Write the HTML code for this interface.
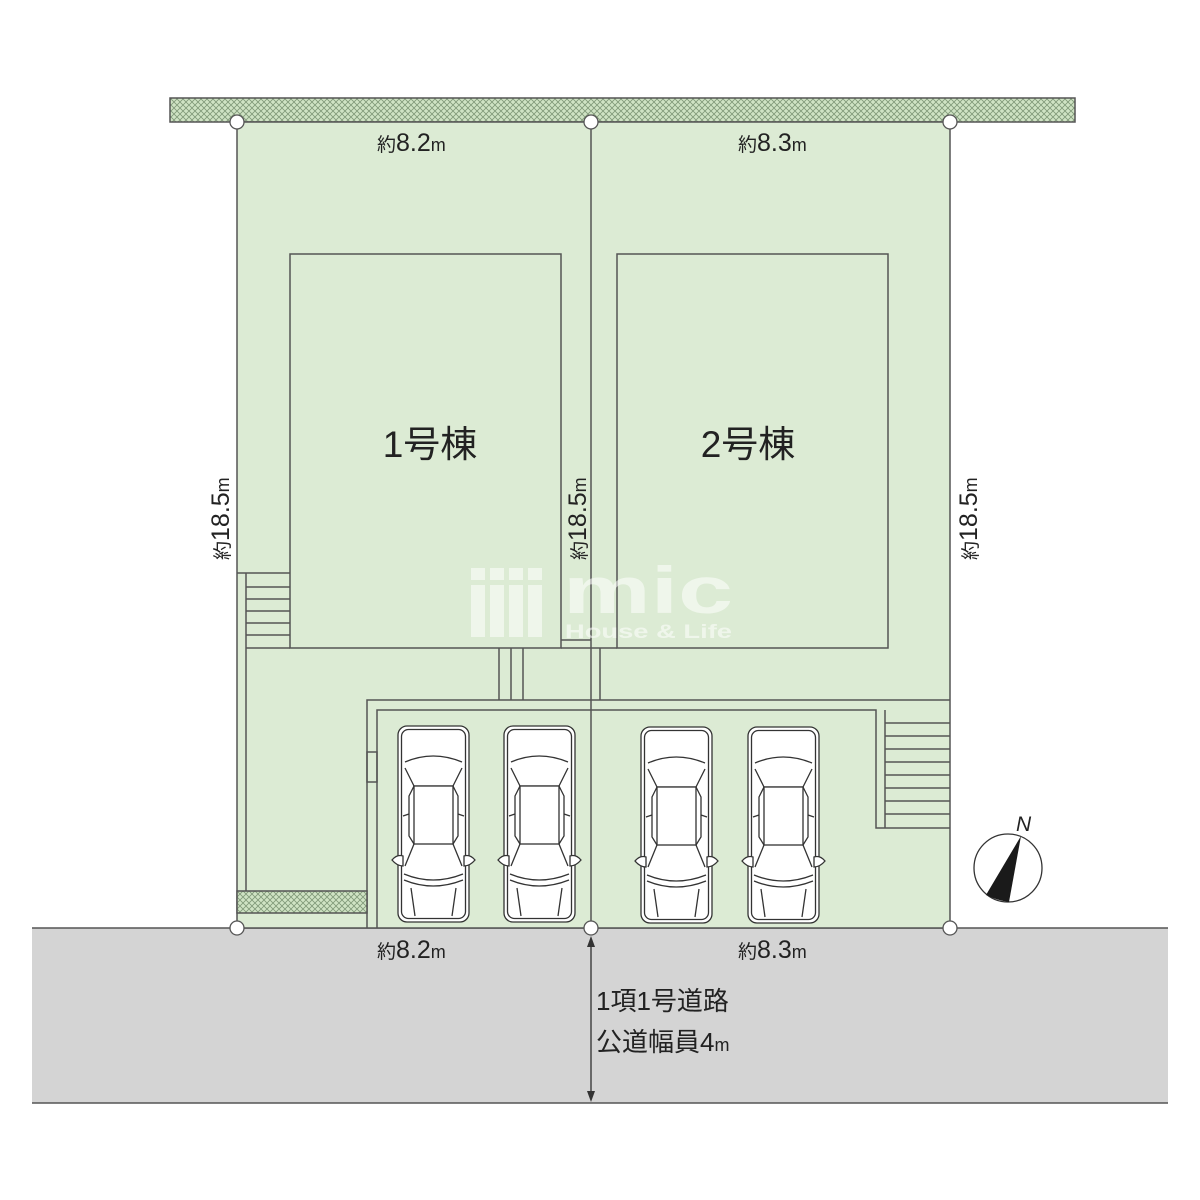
<!DOCTYPE html>
<html><head><meta charset="utf-8"><style>
html,body{margin:0;padding:0;background:#fff;}
svg{display:block;}
text{font-family:"Liberation Sans","Noto Sans CJK JP",sans-serif;fill:#222;}
</style></head><body>
<svg width="1200" height="1200" viewBox="0 0 1200 1200" xmlns="http://www.w3.org/2000/svg">
<defs>
<pattern id="hx" width="6" height="6" patternUnits="userSpaceOnUse">
<rect width="6" height="6" fill="#cfe3c4"/>
<path d="M0 0L6 6M6 0L0 6" stroke="#7f9878" stroke-width="0.8"/>
</pattern>
<g id="car" fill="#fff" stroke="#333" stroke-width="1.3">
<rect x="1" y="0" width="71" height="196" rx="9"/>
<rect x="4.5" y="3.5" width="64" height="189" rx="7"/>
<path d="M-5 134 Q0 128 6 130 L6 140 Q0 140 -5 134Z"/>
<path d="M78 134 Q73 128 67 130 L67 140 Q73 140 78 134Z"/>
<path d="M8 36 Q36 24 65 36" fill="none"/>
<path d="M8 42 L17 60 L56 60 L65 42" fill="none"/>
<rect x="17" y="60" width="39" height="58" fill="#fff"/>
<path d="M17 60 L12 70 L12 110 L17 118 M56 60 L61 70 L61 110 L56 118" fill="none"/>
<path d="M17 118 L8 140 M56 118 L65 140" fill="none"/>
<path d="M7 148 Q36 160 66 148" fill="none"/>
<path d="M7 154 Q36 166 66 154" fill="none"/>
<path d="M6 90 L12 88 M67 90 L61 88" fill="none"/>
<path d="M14 162 L18 190 M59 162 L55 190" fill="none"/>
</g>
</defs>

<rect x="32" y="928" width="1136" height="175" fill="#d4d4d4"/>
<line x1="32" y1="928" x2="1168" y2="928" stroke="#555" stroke-width="1.5"/>
<line x1="32" y1="1103" x2="1168" y2="1103" stroke="#555" stroke-width="1.5"/>

<rect x="170" y="98" width="905" height="24" fill="url(#hx)" stroke="#555" stroke-width="1.5"/>

<rect x="237" y="122" width="713" height="806" fill="#dcebd4" stroke="#555" stroke-width="1.5"/>
<line x1="591" y1="122" x2="591" y2="928" stroke="#555" stroke-width="1.5"/>

<g fill="none" stroke="#555" stroke-width="1.5">
<rect x="290" y="254" width="271" height="394"/>
<rect x="617" y="254" width="271" height="394"/>
<path d="M561 640 L591 640 M591 648 L617 648 M561 648 L591 648"/>
<path d="M237 573 L290 573 M246 573 L246 891"/>
<path d="M246 587 L290 587 M246 599 L290 599 M246 611 L290 611 M246 623 L290 623 M246 635 L290 635"/>
<path d="M246 648 L290 648"/>
<path d="M499 648 L499 700 M511 648 L511 700 M523 648 L523 700"/>
<path d="M600 648 L600 700"/>
<path d="M367 928 L367 700 L950 700"/>
<path d="M377 928 L377 710 L876 710 L876 828 L950 828"/>
<path d="M885 710 L885 828"/>
<path d="M885 723 L950 723 M885 736 L950 736 M885 749 L950 749 M885 762 L950 762 M885 775 L950 775 M885 788 L950 788 M885 801 L950 801 M885 814 L950 814"/>
<rect x="367" y="752" width="10" height="30"/>
</g>
<rect x="237" y="891" width="130" height="22" fill="url(#hx)" stroke="#555" stroke-width="1.5"/>

<g fill="#fff" opacity="0.55">
<rect x="471" y="568" width="14" height="12"/><rect x="490" y="568" width="14" height="12"/><rect x="509" y="568" width="14" height="12"/><rect x="528" y="568" width="14" height="12"/>
<rect x="471" y="585" width="14" height="52"/><rect x="490" y="585" width="14" height="52"/><rect x="509" y="585" width="14" height="52"/><rect x="528" y="585" width="14" height="52"/>
</g>
<text x="563" y="613" font-size="66" font-weight="bold" style="fill:#fff" opacity="0.55" textLength="170" lengthAdjust="spacingAndGlyphs">mic</text>
<text x="565" y="638" font-size="19" font-weight="bold" style="fill:#fff" opacity="0.55" textLength="167" lengthAdjust="spacingAndGlyphs">House &amp; Life</text>

<use href="#car" x="397" y="726"/>
<use href="#car" x="503" y="726"/>
<use href="#car" x="640" y="727"/>
<use href="#car" x="747" y="727"/>

<g fill="#fff" stroke="#555" stroke-width="1.3">
<circle cx="237" cy="122" r="7"/><circle cx="591" cy="122" r="7"/><circle cx="950" cy="122" r="7"/>
<circle cx="237" cy="928" r="7"/><circle cx="591" cy="928" r="7"/><circle cx="950" cy="928" r="7"/>
</g>

<line x1="591" y1="940" x2="591" y2="1094" stroke="#444" stroke-width="1.5"/>
<path d="M591 936 L587 947 L595 947Z M591 1102 L587 1091 L595 1091Z" fill="#333"/>

<text x="377" y="151" font-size="19">約<tspan font-size="25">8.2</tspan><tspan font-size="18">m</tspan></text>
<text x="738" y="151" font-size="19">約<tspan font-size="25">8.3</tspan><tspan font-size="18">m</tspan></text>
<text x="377" y="958" font-size="19">約<tspan font-size="25">8.2</tspan><tspan font-size="18">m</tspan></text>
<text x="738" y="958" font-size="19">約<tspan font-size="25">8.3</tspan><tspan font-size="18">m</tspan></text>

<text transform="translate(229,560) rotate(-90)" font-size="19">約<tspan font-size="25">18.5</tspan><tspan font-size="18">m</tspan></text>
<text transform="translate(586,560) rotate(-90)" font-size="19">約<tspan font-size="25">18.5</tspan><tspan font-size="18">m</tspan></text>
<text transform="translate(977,560) rotate(-90)" font-size="19">約<tspan font-size="25">18.5</tspan><tspan font-size="18">m</tspan></text>

<text x="430" y="457" font-size="37" text-anchor="middle">1号棟</text>
<text x="748" y="457" font-size="37" text-anchor="middle">2号棟</text>

<text x="596" y="1010" font-size="26">1項1号道路</text>
<text x="596" y="1051" font-size="26">公道幅員<tspan>4</tspan><tspan font-size="18">m</tspan></text>

<circle cx="1008" cy="868" r="34" fill="#fff" stroke="#333" stroke-width="1.3"/>
<path d="M1021 836 L986 895 Q996 900 1009 902Z" fill="#1a1a1a"/>
<text x="1016" y="831" font-size="21" font-style="italic">N</text>
</svg>
</body></html>
